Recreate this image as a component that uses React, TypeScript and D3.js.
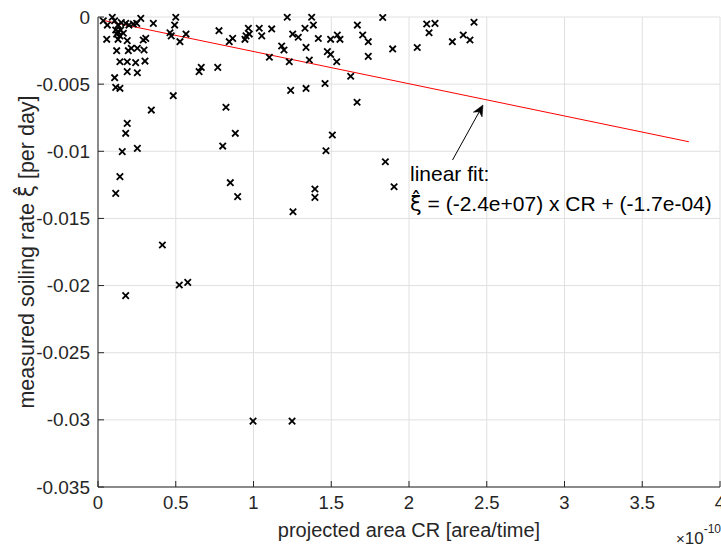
import React from "react";
import * as d3 from "d3";

// projected area CR (units of 1e-10) and measured soiling rate (per day)
const crValues: number[] = [
  0.034, 0.06, 0.092, 0.107, 0.129, 0.15, 0.178, 0.199, 0.227, 0.249, 0.275,
  0.114, 0.129, 0.146, 0.12, 0.141, 0.163, 0.056, 0.129, 0.188, 0.291, 0.307,
  0.356, 0.12, 0.195, 0.214, 0.253, 0.296, 0.141, 0.188, 0.242, 0.302, 0.188,
  0.253, 0.107, 0.114, 0.141, 0.484, 0.343, 0.188, 0.178, 0.156, 0.253, 0.141,
  0.114, 0.414, 0.178, 0.523, 0.577, 0.5, 0.493, 0.463, 0.471, 0.527, 0.566,
  0.65, 0.664, 0.77, 0.778, 0.844, 0.866, 0.945, 0.952, 0.967, 0.973, 1.037,
  1.053, 1.117, 1.102, 0.823, 0.883, 0.802, 0.851, 0.898, 0.997, 1.248, 1.217,
  1.252, 1.288, 1.181, 1.196, 1.23, 1.239, 1.338, 1.331, 1.338, 1.359, 1.374,
  1.385, 1.417, 1.496, 1.539, 1.556, 1.475, 1.496, 1.535, 1.46, 1.254, 1.395,
  1.395, 1.466, 1.507, 1.668, 1.702, 1.738, 1.738, 1.831, 1.895, 1.625, 1.666,
  1.848, 1.904, 2.053, 2.114, 2.167, 2.129, 2.279, 2.349, 2.392, 2.418,
];
const soilingValues: number[] = [
  -0.00028, -0.0006, -0.00002, -0.00028, -0.0006, -0.00042, -0.00047, -0.0006,
  -0.00052, -0.00047, -0.0001, -0.00097, -0.00109, -0.00097, -0.00127, -0.00141,
  -0.00121, -0.00166, -0.00166, -0.00176, -0.00171, -0.00159, -0.00047, -0.00251,
  -0.00251, -0.00233, -0.00233, -0.00246, -0.00333, -0.00333, -0.0034, -0.00328,
  -0.00407, -0.00415, -0.00452, -0.00524, -0.00531, -0.00586, -0.00693, -0.00792,
  -0.00866, -0.01003, -0.00978, -0.01189, -0.01313, -0.01698, -0.02075, -0.01996,
  -0.01976, -0.00002, -0.0006, -0.00117, -0.00141, -0.00184, -0.00127, -0.00407,
  -0.00375, -0.00375, -0.00102, -0.00184, -0.00159, -0.00166, -0.00141, -0.00084,
  -0.00127, -0.00084, -0.00141, -0.00089, -0.003, -0.00672, -0.00866, -0.00961,
  -0.01234, -0.01338, -0.03009, -0.03009, -0.00002, -0.00127, -0.00151, -0.00216,
  -0.00246, -0.00333, -0.00546, -0.00532, -0.00084, -0.00226, -0.0032, -0.00002,
  -0.0006, -0.0016, -0.00166, -0.00134, -0.00166, -0.00258, -0.00278, -0.00333,
  -0.00495, -0.0145, -0.01281, -0.01343, -0.00996, -0.00879, -0.0006, -0.00134,
  -0.00184, -0.00293, -0.00004, -0.00238, -0.00441, -0.00635, -0.01078, -0.01264,
  -0.00227, -0.00052, -0.00047, -0.00117, -0.00184, -0.00134, -0.00171, -0.00039,
];

const xTicks: number[] = [0, 0.5, 1, 1.5, 2, 2.5, 3, 3.5, 4];
const xTickLabels: string[] = ["0", "0.5", "1", "1.5", "2", "2.5", "3", "3.5", "4"];
const yTicks: number[] = [-0.035, -0.03, -0.025, -0.02, -0.015, -0.01, -0.005, 0];
const yTickLabels: string[] = ["-0.035", "-0.03", "-0.025", "-0.02", "-0.015", "-0.01", "-0.005", "0"];

const fitSlope = -2.4e7; // per (area/time)
const fitIntercept = -1.7e-4;
const fitXEnd = 3.8; // units of 1e-10
const xExponent = 1e-10;

export default function App() {
  const W = 721;
  const H = 547;
  const x = d3.scaleLinear().domain([0, 4]).range([98, 720]);
  const y = d3.scaleLinear().domain([-0.035, 0]).range([487, 17]);
  const axisColor = "#262626";
  const gridColor = "#e0e0e0";
  const font = "'Liberation Sans', Arial, sans-serif";

  const fitX0 = d3.min(crValues) as number;
  const fitData: [number, number][] = [fitX0, fitXEnd].map((c) => [
    c,
    fitSlope * c * xExponent + fitIntercept,
  ]);
  const fitLine = d3
    .line<[number, number]>()
    .x((d) => x(d[0]))
    .y((d) => y(d[1]));

  // arrow annotation (data coords)
  const tail = [x(2.28), y(-0.01065)];
  const tip = [x(2.476), y(-0.00655)];
  const ang = Math.atan2(tip[1] - tail[1], tip[0] - tail[0]);
  const hl = 11;
  const hw = 5;
  const back = [tip[0] - hl * Math.cos(ang), tip[1] - hl * Math.sin(ang)];
  const notch = [tip[0] - hl * 0.7 * Math.cos(ang), tip[1] - hl * 0.7 * Math.sin(ang)];
  const px = -Math.sin(ang);
  const py = Math.cos(ang);
  const head = [
    tip,
    [back[0] + px * hw, back[1] + py * hw],
    notch,
    [back[0] - px * hw, back[1] - py * hw],
  ]
    .map((p) => p.join(","))
    .join(" ");

  const m = 3.2;

  return (
    <svg
      width={W}
      height={H}
      style={{ position: "absolute", left: 0, top: 0, background: "#fff", display: "block" }}
    >
      <rect x={0} y={0} width={W} height={H} fill="#fff" />
      {/* grid */}
      {xTicks.map((t) => (
        <line key={"gx" + t} x1={x(t)} x2={x(t)} y1={y(0)} y2={y(-0.035)} stroke={gridColor} strokeWidth={1} />
      ))}
      {yTicks.map((t) => (
        <line key={"gy" + t} x1={x(0)} x2={x(4)} y1={y(t)} y2={y(t)} stroke={gridColor} strokeWidth={1} />
      ))}
      {/* axes */}
      <line x1={x(0)} x2={x(0)} y1={y(0)} y2={y(-0.035)} stroke={axisColor} strokeWidth={1} />
      <line x1={x(0)} x2={x(4)} y1={y(-0.035)} y2={y(-0.035)} stroke={axisColor} strokeWidth={1} />
      {xTicks.map((t) => (
        <line key={"tx" + t} x1={x(t)} x2={x(t)} y1={y(-0.035)} y2={y(-0.035) - 6} stroke={axisColor} strokeWidth={1} />
      ))}
      {yTicks.map((t) => (
        <line key={"ty" + t} x1={x(0)} x2={x(0) + 6} y1={y(t)} y2={y(t)} stroke={axisColor} strokeWidth={1} />
      ))}
      {/* tick labels */}
      {xTicks.map((t, i) => (
        <text key={"lx" + t} x={x(t)} y={509} textAnchor="middle" fontFamily={font} fontSize={18.5} fill={axisColor}>
          {xTickLabels[i]}
        </text>
      ))}
      {yTicks.map((t, i) => (
        <text key={"ly" + t} x={90} y={y(t) + 6.5} textAnchor="end" fontFamily={font} fontSize={19} fill={axisColor}>
          {yTickLabels[i]}
        </text>
      ))}
      {/* axis labels */}
      <text x={409} y={537} textAnchor="middle" fontFamily={font} fontSize={20} fill={axisColor}>
        projected area CR [area/time]
      </text>
      <text x={721} y={544} textAnchor="end" fontFamily={font} fontSize={17} fill={axisColor}>
        <tspan fontSize={15}>×</tspan>10
        <tspan dy={-11} fontSize={12}>-10</tspan>
      </text>
      <text
        transform={`translate(34, ${(y(0) + y(-0.035)) / 2}) rotate(-90)`}
        textAnchor="middle"
        fontFamily={font}
        fontSize={21.5}
        fill={axisColor}
      >
        measured soiling rate <tspan fontFamily="'DejaVu Sans'">{"ξ\u0302"}</tspan> [per day]
      </text>
      {/* fit line */}
      <path d={fitLine(fitData) || ""} fill="none" stroke="#ff0000" strokeWidth={1} />
      {/* points */}
      {crValues.map((c, i) => {
        const cx = x(c);
        const cy = y(soilingValues[i]);
        return (
          <g key={"p" + i} stroke="#000" strokeWidth={1.8}>
            <line x1={cx - m} y1={cy - m} x2={cx + m} y2={cy + m} />
            <line x1={cx - m} y1={cy + m} x2={cx + m} y2={cy - m} />
          </g>
        );
      })}
      {/* annotation */}
      <line x1={tail[0]} y1={tail[1]} x2={notch[0]} y2={notch[1]} stroke="#000" strokeWidth={1} />
      <polygon points={head} fill="#000" stroke="#000" strokeWidth={0.5} />
      <text x={410} y={181} fontFamily={font} fontSize={21} fill="#000">
        linear fit:
      </text>
      <text x={410} y={211} fontFamily={font} fontSize={21} fill="#000">
        <tspan fontFamily="'DejaVu Sans'">{"ξ\u0302"}</tspan> = (-2.4e+07) x CR + (-1.7e-04)
      </text>
    </svg>
  );
}
